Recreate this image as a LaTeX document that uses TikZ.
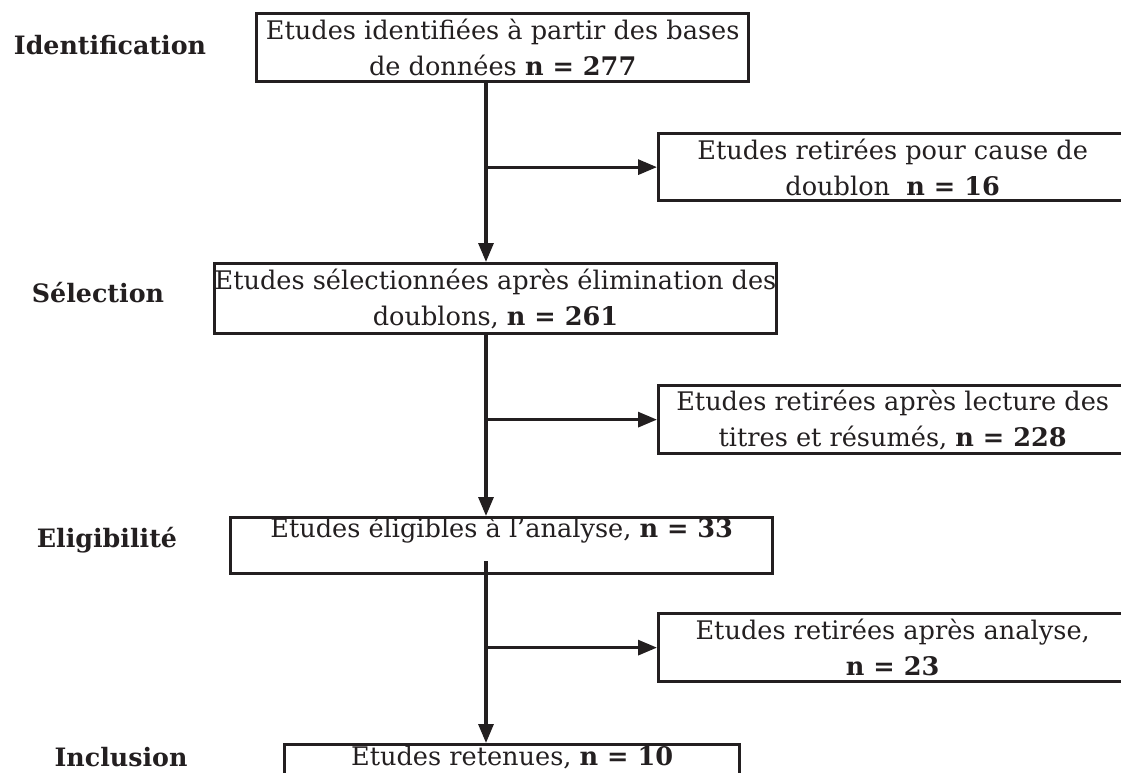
\documentclass[tikz,border=0pt]{standalone}
\usepackage{fontspec}
\setmainfont{DejaVu Serif}
\usetikzlibrary{arrows.meta}
\definecolor{ink}{RGB}{35,31,32}
\tikzset{
  stage/.style={draw=ink,line width=2.3pt,inner sep=0pt,align=center,anchor=north west,text=ink,
    font=\fontsize{18.2}{25.5}\selectfont},
  phase/.style={text=ink,inner sep=1pt,font=\fontsize{18}{20}\selectfont\bfseries},
  flow/.style={draw=ink,line width=2.3pt,-{Triangle[length=4.7mm,width=3.7mm]}}
}
\begin{document}
\begin{tikzpicture}[x=0.025cm,y=-0.025cm]
\useasboundingbox (0,0) rectangle (1121,772);
% stages
\node[stage,minimum width=12.3cm,minimum height=1.7cm] (ident) at (255,12)
  {Etudes identifiées à partir des bases\\de données \textbf{n = 277}};
\node[stage,minimum width=13.925cm,minimum height=1.75cm] (select) at (213,262)
  {Etudes sélectionnées après élimination des\\doublons, \textbf{n = 261}};
\node[stage,minimum width=13.55cm,text height=0.5cm,text depth=0.9cm] (elig) at (229,516)
  {Etudes éligibles à l’analyse, \textbf{n = 33}};
\node[stage,minimum width=11.375cm,text height=0.52cm,text depth=1cm] (incl) at (283,743)
  {Etudes retenues, \textbf{n = 10}};
% exclusions
\node[stage,minimum width=11.7cm,minimum height=1.675cm] (dup) at (657,132)
  {Etudes retirées pour cause de\\doublon\ \ \textbf{n = 16}};
\node[stage,minimum width=11.7cm,minimum height=1.7cm] (title) at (657,384)
  {Etudes retirées après lecture des\\titres et résumés, \textbf{n = 228}};
\node[stage,minimum width=11.7cm,minimum height=1.7cm] (full) at (657,612)
  {Etudes retirées après analyse,\\\textbf{n = 23}};
% phases
\node[phase] (p1) at (110,45) {Identification};
\node[phase] (p2) at (98,293) {Sélection};
\node[phase] (p3) at (107,540) {Eligibilité};
\node[phase] (p4) at (121,757) {Inclusion};
% arrows
\coordinate (spine) at (486,0);
\coordinate (out3) at (486,561);
\draw[flow] (ident.south -| spine) -- (select.north -| spine);
\draw[flow] (select.south -| spine) -- (elig.north -| spine);
\draw[flow] (out3) -- (incl.north -| spine);
\draw[flow] (spine |- dup.west) -- (dup.west);
\draw[flow] (spine |- title.west) -- (title.west);
\draw[flow] (spine |- full.west) -- (full.west);
\end{tikzpicture}
\end{document}
